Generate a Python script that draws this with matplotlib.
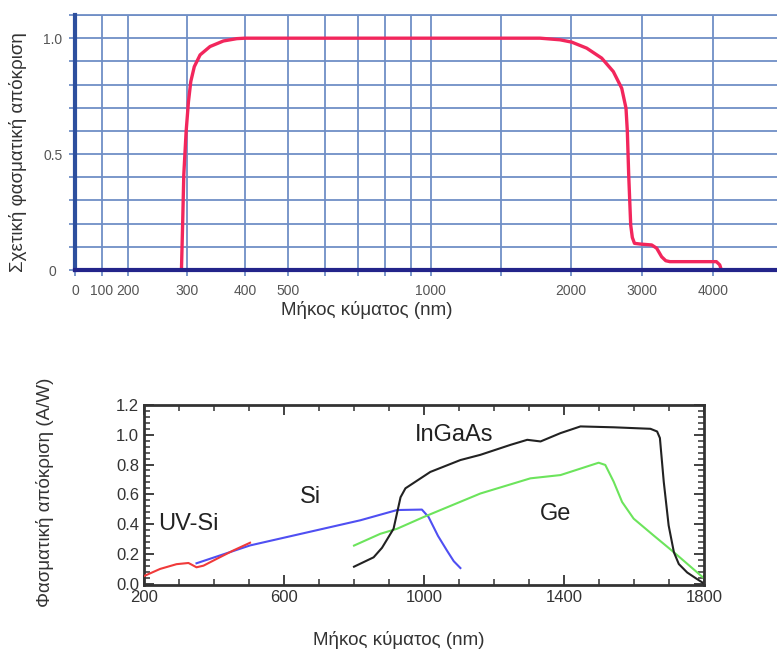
import numpy as np
import matplotlib
matplotlib.use("Agg")
import matplotlib.pyplot as plt
from matplotlib.ticker import FixedLocator, MultipleLocator, AutoMinorLocator

plt.rcParams['font.family'] = ['Liberation Sans', 'DejaVu Sans']

#################################################################################
# top chart data (relative spectral response)
#################################################################################
top_wl = [291, 293, 295, 299, 303, 307, 313, 323, 340, 363, 386, 400, 800, 1500, 1780,
          1922, 2010, 2220, 2430, 2593, 2711, 2771, 2790, 2809, 2837, 2860, 2890, 2968,
          3132, 3202, 3272, 3330, 3388, 4043, 4090, 4113]
top_resp = [0.0, 0.194, 0.41, 0.597, 0.726, 0.813, 0.877, 0.928, 0.964, 0.988, 0.998, 1.0,
            1.0, 1.0, 1.0, 0.993, 0.983, 0.957, 0.914, 0.856, 0.784, 0.698, 0.597, 0.41,
            0.194, 0.14, 0.115, 0.112, 0.108, 0.094, 0.057, 0.04, 0.036, 0.036, 0.022, 0.0]

# the drawn axis is neither linear nor log: tick value -> pixel position
axis_vals = [0, 100, 200, 300, 400, 500, 600, 700, 800, 900, 1000, 1500, 2000, 3000, 4000, 5000]
axis_pos = [75, 101.7, 128.3, 186.7, 245, 288.3, 325, 358.3, 385, 410.7, 430.7, 500.7, 571,
            642.3, 713.3, 784.6]
top_labels = [0, 100, 200, 300, 400, 500, 1000, 2000, 3000, 4000]

#################################################################################
# bottom chart data (A/W)
#################################################################################
uvsi_wl = [200, 246, 293, 327, 336, 350, 370, 408, 455, 503]
uvsi_r = [0.05, 0.098, 0.13, 0.138, 0.127, 0.109, 0.12, 0.166, 0.222, 0.274]

si_wl = [350, 503, 818, 923, 994, 1013, 1040, 1066, 1085, 1104]
si_r = [0.136, 0.256, 0.425, 0.494, 0.497, 0.447, 0.32, 0.22, 0.15, 0.104]

ge_wl = [800, 875, 923, 999, 1161, 1304, 1390, 1499, 1518, 1542, 1566, 1599, 1656, 1714, 1800]
ge_r = [0.255, 0.334, 0.368, 0.447, 0.605, 0.707, 0.729, 0.812, 0.797, 0.684, 0.548, 0.436,
        0.323, 0.21, 0.035]

ingaas_wl = [800, 856, 880, 913, 933, 947, 1018, 1104, 1161, 1247, 1295, 1333, 1390, 1447,
             1543, 1647, 1666, 1674, 1685, 1699, 1714, 1728, 1752, 1780, 1800]
ingaas_r = [0.113, 0.176, 0.24, 0.368, 0.58, 0.64, 0.75, 0.83, 0.865, 0.932, 0.966, 0.955,
            1.011, 1.056, 1.05, 1.04, 1.022, 0.978, 0.684, 0.39, 0.21, 0.131, 0.074, 0.03, 0.0]

labels_txt = ["UV-Si", "Si", "InGaAs", "Ge"]
labels_x = [326, 675, 1086, 1377]
labels_y = [0.40, 0.58, 1.0, 0.47]

#################################################################################
# figure
#################################################################################
W, H = 777, 652
fig = plt.figure(figsize=(W / 100, H / 100), dpi=100)


def box(l, t, r, b):
    return [l / W, 1 - b / H, (r - l) / W, (b - t) / H]


grid_col = '#6f8fc6'

ax1 = fig.add_axes(box(75, 15, 777, 270))
fwd = lambda v: np.interp(v, axis_vals, axis_pos)
inv = lambda p: np.interp(p, axis_pos, axis_vals)
ax1.set_xscale('function', functions=(fwd, inv))
ax1.set_xlim(0, 4893)
ax1.set_ylim(0, 1.1)

ax1.xaxis.set_major_locator(FixedLocator(top_labels))
ax1.xaxis.set_minor_locator(FixedLocator([600, 700, 800, 900, 1500]))
ax1.set_xticklabels([str(v) for v in top_labels])
ax1.yaxis.set_major_locator(FixedLocator([0, 0.5, 1.0]))
ax1.yaxis.set_minor_locator(MultipleLocator(0.1))
ax1.set_yticklabels(['0', '0.5', '1.0'])
for lab in ax1.get_yticklabels():
    lab.set_horizontalalignment('center')

ax1.grid(True, which='both', color=grid_col, lw=1.3)
ax1.axhline(1.1, color=grid_col, lw=1.3, clip_on=False)
ax1.tick_params(which='both', direction='out', length=4, width=1.3, color=grid_col,
                labelsize=10, labelcolor='#555555')
ax1.tick_params(axis='y', which='major', pad=12)
ax1.tick_params(axis='x', which='major', pad=6)
for s in ['top', 'right']:
    ax1.spines[s].set_visible(False)
ax1.spines['left'].set_color('#2d4f9e')
ax1.spines['left'].set_linewidth(3)
ax1.spines['bottom'].set_color('#23248a')
ax1.spines['bottom'].set_linewidth(3)
ax1.spines['bottom'].set_zorder(4)
ax1.set_axisbelow(True)

ax1.plot(top_wl, top_resp, color='#f2265c', lw=2.4, zorder=3, solid_joinstyle='round')

fig.text(367 / W, 1 - 310 / H, 'Μήκος κύματος (nm)', ha='center', va='center',
         fontsize=13.5, color='#333333')
fig.text(18 / W, 1 - 152 / H, 'Σχετική φασματική απόκριση', ha='center', va='center',
         rotation=90, fontsize=13.5, color='#333333')

#################################################################################
# bottom chart
#################################################################################
ax2 = fig.add_axes(box(144, 405, 704, 585))
ax2.plot(uvsi_wl, uvsi_r, color='#f03a3a', lw=1.5, zorder=3)
ax2.plot(si_wl, si_r, color='#4f4ff2', lw=1.5, zorder=2)
ax2.plot(ge_wl, ge_r, color='#6ce45c', lw=1.5)
ax2.plot(ingaas_wl, ingaas_r, color='#222222', lw=1.5)

for t, x, y in zip(labels_txt, labels_x, labels_y):
    ax2.text(x, y, t, ha='center', va='center', fontsize=17, color='#222222')

ax2.set_xlim(200, 1800)
ax2.set_ylim(-0.01, 1.2)
ax2.xaxis.set_major_locator(FixedLocator([200, 600, 1000, 1400, 1800]))
ax2.xaxis.set_minor_locator(MultipleLocator(100))
ax2.yaxis.set_major_locator(MultipleLocator(0.2))
ax2.yaxis.set_minor_locator(AutoMinorLocator(5))
ax2.yaxis.set_major_formatter(matplotlib.ticker.FormatStrFormatter('%.1f'))
ax2.tick_params(which='both', direction='in', top=True, right=True, color='#333333',
                labelsize=12, labelcolor='#333333')
ax2.tick_params(which='major', length=7, width=1.3)
ax2.tick_params(which='minor', length=4, width=1.1)
for s in ax2.spines.values():
    s.set_linewidth(2)
    s.set_color('#333333')

fig.text(399 / W, 1 - 640 / H, 'Μήκος κύματος (nm)', ha='center', va='center',
         fontsize=13.5, color='#333333')
fig.text(45 / W, 1 - 492 / H, 'Φασματική απόκριση (A/W)', ha='center', va='center',
         rotation=90, fontsize=13.5, color='#333333')

fig.savefig('out.png', dpi=100)
